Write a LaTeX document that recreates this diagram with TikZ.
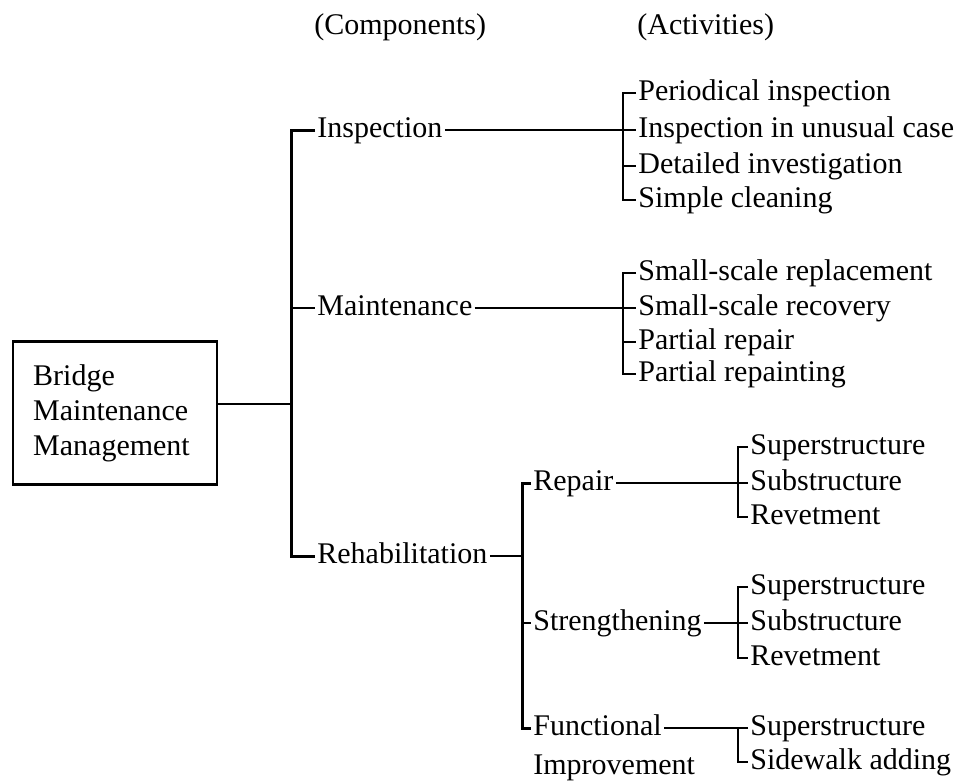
\documentclass[tikz,border=0pt]{standalone}
\usepackage{fontspec}
\setmainfont{Liberation Serif}
\usetikzlibrary{positioning}

\tikzset{
  lbl/.style={anchor=west, inner sep=1pt, text height=0.68em, text depth=0.18em},
  trunk/.style={line width=1.5pt},
  brk/.style={line width=1.3pt},
  lnk/.style={line width=0.7pt},
}

\begin{document}
\begin{tikzpicture}[x=0.5pt, y=-0.5pt]

  \fontsize{15}{17.5}\selectfont
  \useasboundingbox (0,0) rectangle (964,783);

  \node[lbl] (comp) at (312, 27) {(Components)};
  \node[lbl] (act) at (635, 27) {(Activities)};

  \node[draw, line width=1.2pt, anchor=west, align=left, text width=82pt,
    inner xsep=10pt, minimum height=71.5pt] (bmm) at (12, 413)
    {Bridge\\Maintenance\\Management};

  %% components
  \node[lbl] (insp) at (315, 130) {Inspection};
  \node[lbl] (maint) at (315, 308) {Maintenance};
  \node[lbl] (rehab) at (315, 556) {Rehabilitation};

  \coordinate (c0) at (291, 404);
  \draw[lnk] (bmm.east |- c0) -- (c0);
  \draw[trunk] (insp.west) -- (insp.west -| c0) -- (rehab.west -| c0) -- (rehab.west);
  \draw[lnk] (maint.west -| c0) -- (maint.west);

  %% inspection
  \coordinate (b1) at (623, 0);
  \node[lbl] (i1) at (636, 93) {Periodical inspection};
  \node[lbl] (i2) at (636, 130) {Inspection in unusual case};
  \node[lbl] (i3) at (636, 166) {Detailed investigation};
  \node[lbl] (i4) at (636, 200) {Simple cleaning};
  \draw[brk] (i1.west) -- (i1.west -| b1) -- (i4.west -| b1) -- (i4.west);
  \draw[lnk] (i2.west -| b1) -- (i2.west);
  \draw[lnk] (i3.west -| b1) -- (i3.west);
  \draw[lnk] (insp.east) -- (i2.west -| b1); %% Inspection->bracket

  %% maintenance
  \node[lbl] (m1) at (636, 273) {Small-scale replacement};
  \node[lbl] (m2) at (636, 308) {Small-scale recovery};
  \node[lbl] (m3) at (636, 342) {Partial repair};
  \node[lbl] (m4) at (636, 374) {Partial repainting};
  \draw[brk] (m1.west) -- (m1.west -| b1) -- (m4.west -| b1) -- (m4.west);
  \draw[lnk] (m2.west -| b1) -- (m2.west);
  \draw[lnk] (m3.west -| b1) -- (m3.west);
  \draw[lnk] (maint.east) -- (m2.west -| b1); %% Maintenance->bracket

  %% rehabilitation
  \coordinate (b3) at (522, 0);
  \node[lbl] (rep) at (531, 483) {Repair};
  \node[lbl] (str) at (531, 623) {Strengthening};
  \node[lbl] (fun) at (531, 728) {Functional};
  \node[lbl] (imp) at (531, 767) {Improvement};
  \draw[trunk] (rep.west) -- (rep.west -| b3) -- (fun.west -| b3) -- (fun.west);
  \draw[lnk] (str.west -| b3) -- (str.west);
  \draw[lnk] (rehab.east) -- (rehab.east -| b3);

  \coordinate (b4) at (738, 0);
  \node[lbl] (r1) at (748, 447) {Superstructure};
  \node[lbl] (r2) at (748, 483) {Substructure};
  \node[lbl] (r3) at (748, 517) {Revetment};
  \draw[brk] (r1.west) -- (r1.west -| b4) -- (r3.west -| b4) -- (r3.west);
  \draw[lnk] (r2.west -| b4) -- (r2.west);
  \draw[lnk] (rep.east) -- (r2.west -| b4); %% Repair->bracket

  \node[lbl] (s1) at (748, 587) {Superstructure};
  \node[lbl] (s2) at (748, 623) {Substructure};
  \node[lbl] (s3) at (748, 658) {Revetment};
  \draw[brk] (s1.west) -- (s1.west -| b4) -- (s3.west -| b4) -- (s3.west);
  \draw[lnk] (s2.west -| b4) -- (s2.west);
  \draw[lnk] (str.east) -- (s2.west -| b4); %% Strengthening->bracket

  \node[lbl] (f1) at (748, 728) {Superstructure};
  \node[lbl] (f2) at (748, 762) {Sidewalk adding};
  \draw[brk] (f1.west) -- (f1.west -| b4) -- (f2.west -| b4) -- (f2.west);
  \draw[lnk] (fun.east) -- (f1.west -| b4); %% Functional->bracket
\end{tikzpicture}
\end{document}
